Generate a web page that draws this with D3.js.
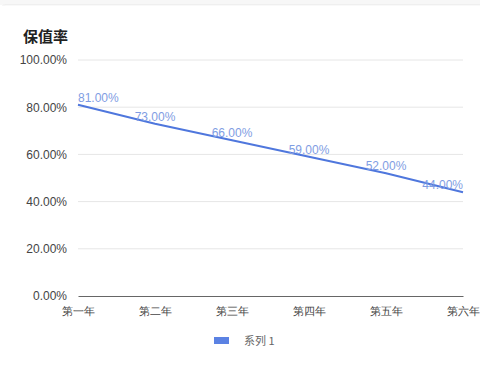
<!DOCTYPE html>
<html>
<head>
<meta charset="utf-8">
<script src="https://cdn.jsdelivr.net/npm/d3@7/dist/d3.min.js"></script>
<style>
  body { margin: 0; background: #fff; }
  svg { display: block; font-family: "Noto Sans CJK SC", "Noto Sans", sans-serif; }
</style>
</head>
<body>
<div id="chart"></div>
<script>
var categories = ["第一年", "第二年", "第三年", "第四年", "第五年", "第六年"];
var values = [0.81, 0.73, 0.66, 0.59, 0.52, 0.44];
var yTicks = [0, 0.2, 0.4, 0.6, 0.8, 1.0];
var seriesName = "系列 1";
var chartTitle = "保值率";

var width = 480, height = 376;
var margin = {top: 60, right: 17, bottom: 80, left: 78};

var svg = d3.select("#chart").append("svg")
    .attr("width", width)
    .attr("height", height);

/***** faint card edge at the top ******/
svg.append("rect")
   .attr("x", 0).attr("y", 0)
   .attr("width", width).attr("height", 5)
   .attr("fill", "#f7f7f7");
svg.append("path")
   .attr("d", "M0,11 Q0,5 6,5 L" + width + ",5")
   .attr("fill", "#fff")
   .attr("stroke", "#e6e6e6");
svg.append("rect")
   .attr("x", 0).attr("y", 5.5)
   .attr("width", width).attr("height", height)
   .attr("fill", "#fff");

svg.append("text")
   .attr("x", 23).attr("y", 42)
   .style("font-size", "15px")
   .style("font-weight", "bold")
   .attr("fill", "#222")
   .text(chartTitle);

var x = d3.scalePoint()
    .domain(categories)
    .range([margin.left, width - margin.right]);

var y = d3.scaleLinear()
    .domain([0, 1])
    .range([height - margin.bottom, margin.top]);

// grid lines
svg.append("g")
   .selectAll("line")
   .data(yTicks.filter(function(d) { return d > 0; }))
   .enter()
   .append("line")
   .attr("x1", margin.left).attr("x2", width - margin.right)
   .attr("y1", function(d) { return y(d); })
   .attr("y2", function(d) { return y(d); })
   .attr("stroke", "#e6e6e6")
   .attr("stroke-width", 1);

// y axis labels
var yAxis = svg.append("g")
   .attr("transform", "translate(" + margin.left + ",0)")
   .call(d3.axisLeft(y).tickValues(yTicks).tickSize(0).tickPadding(11)
           .tickFormat(function(d) { return (d * 100).toFixed(2) + "%"; }));
yAxis.select(".domain").remove();
yAxis.selectAll("text").style("font-size", "12px").attr("fill", "#444")
     .style("font-family", "Helvetica, Arial, sans-serif");

// x axis
var xAxis = svg.append("g")
   .attr("transform", "translate(0," + y(0) + ")")
   .call(d3.axisBottom(x).tickSize(0).tickPadding(11));
xAxis.select(".domain").attr("stroke", "#666").attr("stroke-width", 1.2);
xAxis.selectAll("text").style("font-size", "11px").attr("fill", "#444");

// line
var line = d3.line()
    .x(function(d, i) { return x(categories[i]); })
    .y(function(d) { return y(d); });

svg.append("path")
   .datum(values)
   .attr("fill", "none")
   .attr("stroke", "#4f77dd")
   .attr("stroke-width", 2)
   .attr("d", line);

// value labels
svg.append("g")
   .selectAll("text")
   .data(values)
   .enter()
   .append("text")
   .attr("x", function(d, i) { return x(categories[i]); })
   .attr("y", function(d) { return y(d) - 3; })
   .attr("text-anchor", function(d, i) {
       if (i == 0) return "start";
       if (i == values.length - 1) return "end";
       return "middle";
   })
   .style("font-size", "12px")
   .style("font-family", "Helvetica, Arial, sans-serif")
   .attr("fill", "#7f9de3")
   .text(function(d) { return (d * 100).toFixed(2) + "%"; });

// legend
var legend = svg.append("g").attr("transform", "translate(214,337)");
legend.append("rect")
      .attr("width", 15).attr("height", 7)
      .attr("fill", "#5b82e3");
legend.append("text")
      .attr("x", 30).attr("y", 8)
      .style("font-size", "11px")
      .attr("fill", "#666")
      .text(seriesName);
</script>
</body>
</html>
